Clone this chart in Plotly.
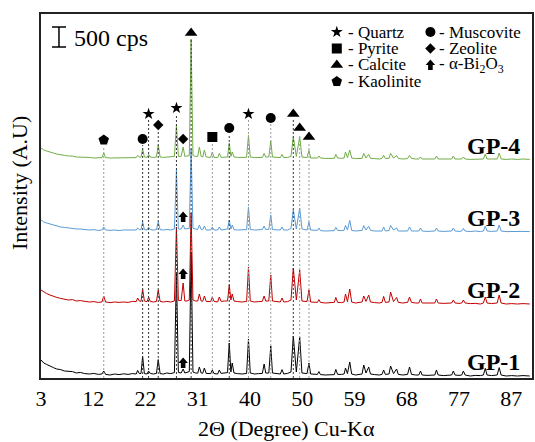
import plotly.graph_objects as go

# ---------------- data ----------------
two_theta = [3.0, 3.5, 4.0, 4.6, 5.2, 5.8, 6.5, 7.2, 7.9, 8.6,
             9.3, 10.0, 10.8, 11.6, 12.4, 13.2, 13.85, 14.17, 14.5, 15.3,
             16.1, 16.9, 17.7, 18.5, 19.3, 19.95, 20.2, 20.5, 20.8, 21.09,
             21.4, 21.9, 22.15, 22.45, 23.0, 23.55, 23.87, 24.2, 24.8, 25.4,
             26.1, 26.75, 27.11, 27.45, 27.95, 28.3, 28.6, 29.0, 29.4, 29.72,
             30.05, 30.5, 30.9, 31.19, 31.5, 31.8, 32.08, 32.4, 33.2, 33.5,
             33.8, 34.45, 34.74, 35.05, 35.7, 36.2, 36.51, 36.8, 37.04, 37.35,
             38.0, 38.8, 39.6, 39.93, 40.25, 41.0, 41.7, 42.4, 42.72, 43.0,
             43.55, 43.9, 44.2, 45.0, 45.6, 45.91, 46.2, 46.9, 47.5, 47.91,
             48.45, 49.05, 49.45, 50.35, 50.7, 51.0, 51.7, 52.2, 52.47, 52.75,
             53.6, 54.5, 55.2, 55.48, 55.8, 56.5, 56.95, 57.2, 57.55, 57.96,
             58.3, 59.0, 59.7, 60.15, 60.45, 60.85, 61.33, 61.65, 62.4, 63.2,
             63.7, 63.99, 64.3, 64.95, 65.23, 65.75, 66.3, 66.6, 67.4, 68.25,
             68.6, 68.95, 69.7, 70.25, 70.55, 70.85, 71.7, 72.6, 73.1, 73.39,
             73.7, 74.6, 75.5, 76.1, 76.4, 76.7, 77.4, 77.9, 78.18, 78.5,
             79.4, 80.3, 81.2, 81.75, 82.08, 82.4, 83.2, 84.2, 84.56, 84.9,
             85.8, 86.8, 87.8, 88.8, 90.0]

gp1 = [450, 375, 340, 290, 260, 225, 210, 175, 165, 160,
       125, 140, 110, 100, 115, 90, 100, 175, 90, 75,
       100, 85, 105, 90, 110, 100, 190, 110, 115, 540,
       110, 100, 175, 115, 100, 115, 460, 110, 100, 125,
       110, 135, 2625, 140, 125, 225, 125, 135, 160, 3150,
       150, 125, 120, 275, 125, 120, 250, 115, 110, 200,
       110, 100, 200, 115, 125, 135, 875, 150, 375, 125,
       110, 100, 115, 975, 125, 100, 110, 115, 350, 125,
       125, 800, 125, 100, 100, 210, 100, 115, 150, 1050,
       150, 1025, 125, 110, 375, 100, 90, 90, 160, 85,
       75, 90, 85, 215, 90, 90, 100, 250, 110, 400,
       100, 75, 90, 100, 325, 125, 275, 100, 85, 75,
       90, 200, 90, 100, 300, 110, 225, 90, 75, 90,
       275, 90, 75, 75, 175, 75, 65, 75, 75, 200,
       75, 60, 75, 75, 175, 75, 65, 75, 175, 75,
       50, 65, 60, 75, 240, 75, 60, 75, 260, 75,
       50, 60, 50, 60, 50]

gp2 = [400, 350, 310, 275, 240, 215, 190, 175, 150, 160,
       125, 135, 110, 100, 110, 90, 100, 250, 100, 85,
       100, 90, 100, 90, 115, 110, 200, 125, 115, 425,
       125, 110, 225, 115, 100, 115, 400, 115, 100, 115,
       100, 125, 1975, 140, 135, 575, 125, 125, 150, 2325,
       150, 125, 125, 300, 125, 120, 250, 115, 110, 225,
       115, 100, 225, 115, 125, 125, 525, 150, 300, 125,
       110, 100, 115, 975, 125, 100, 110, 115, 250, 125,
       125, 775, 125, 100, 100, 200, 100, 110, 150, 950,
       150, 900, 125, 110, 400, 100, 100, 90, 160, 90,
       75, 90, 90, 215, 90, 85, 100, 300, 110, 425,
       100, 75, 90, 100, 250, 115, 275, 100, 85, 75,
       90, 240, 90, 100, 350, 110, 215, 90, 75, 90,
       225, 90, 75, 75, 175, 75, 75, 65, 75, 175,
       75, 65, 75, 75, 150, 75, 65, 75, 150, 75,
       60, 65, 50, 75, 225, 75, 60, 75, 275, 75,
       50, 60, 50, 60, 50]

gp3 = [350, 300, 275, 250, 225, 200, 175, 165, 150, 140,
       125, 125, 110, 100, 110, 90, 100, 175, 100, 90,
       100, 85, 100, 100, 110, 100, 150, 110, 110, 300,
       110, 100, 175, 110, 100, 110, 300, 110, 100, 115,
       100, 125, 1600, 125, 125, 225, 125, 125, 140, 2125,
       140, 125, 115, 225, 115, 110, 200, 100, 100, 175,
       100, 100, 175, 100, 115, 125, 350, 125, 225, 110,
       100, 100, 110, 675, 115, 100, 100, 110, 200, 115,
       115, 475, 110, 100, 100, 175, 100, 100, 140, 600,
       125, 650, 125, 100, 300, 100, 90, 90, 150, 85,
       75, 90, 85, 165, 90, 85, 90, 215, 100, 340,
       90, 75, 90, 90, 210, 100, 190, 90, 75, 75,
       75, 175, 75, 90, 215, 100, 150, 75, 75, 75,
       175, 75, 75, 75, 150, 75, 65, 75, 75, 150,
       75, 65, 75, 75, 150, 75, 65, 75, 140, 75,
       60, 75, 60, 75, 200, 75, 65, 75, 225, 75,
       60, 65, 60, 65, 60]

gp4 = [350, 300, 275, 240, 225, 200, 190, 165, 150, 150,
       125, 125, 110, 115, 100, 100, 110, 225, 110, 100,
       100, 100, 110, 100, 115, 110, 165, 125, 125, 325,
       125, 115, 190, 125, 115, 125, 425, 125, 115, 125,
       125, 140, 925, 140, 140, 375, 140, 150, 160, 3075,
       160, 140, 140, 375, 140, 125, 300, 125, 115, 250,
       115, 110, 215, 115, 125, 125, 475, 140, 250, 125,
       115, 110, 115, 665, 125, 110, 115, 115, 215, 125,
       125, 525, 125, 110, 110, 190, 110, 115, 140, 625,
       140, 625, 125, 110, 290, 100, 100, 100, 150, 100,
       90, 100, 90, 190, 100, 90, 100, 250, 110, 300,
       100, 85, 90, 90, 215, 100, 190, 90, 85, 75,
       90, 165, 90, 90, 215, 100, 160, 90, 75, 85,
       165, 90, 75, 75, 125, 75, 75, 75, 75, 150,
       75, 75, 75, 75, 150, 75, 75, 75, 125, 75,
       65, 75, 75, 75, 200, 75, 75, 75, 225, 75,
       65, 75, 65, 75, 65]

series_names = ["GP-1", "GP-2", "GP-3", "GP-4"]
series_values = [gp1, gp2, gp3, gp4]
series_colors = ["#000000", "#c00000", "#5b9bd5", "#70ad47"]
series_offsets = [0, 1800, 3600, 5400]   # vertical stacking offsets (cps)

# phase identification markers (2theta, height on stacked scale), guide: 0 none, 1 dark, 2 light
quartz_x = [22.15, 27.11, 39.93]
quartz_y = [6600, 6750, 6600]
quartz_guide = [1, 1, 2]
muscovite_x = [21.09, 36.51, 43.9]
muscovite_y = [5975, 6250, 6500]
muscovite_guide = [1, 1, 2]
pyrite_x = [33.5]
pyrite_y = [6025]
pyrite_guide = [2]
zeolite_x = [23.87, 28.3]
zeolite_y = [6325, 5975]
zeolite_guide = [1, 0]
calcite_x = [29.72, 47.91, 49.05, 50.7]
calcite_y = [8625, 6600, 6250, 6025]
calcite_guide = [1, 1, 2, 2]
kaolinite_x = [14.17]
kaolinite_y = [5950]
kaolinite_guide = [2]
bi2o3_x = [28.3, 28.3, 28.3]
bi2o3_y = [4025, 2600, 375]

x_tick_vals = [3, 12.3, 21.6, 30.9, 40.2, 49.5, 58.8, 68.1, 77.4, 86.7]
x_tick_text = ["3", "12", "22", "31", "40", "50", "59", "68", "77", "87"]

scale_bar_cps = 500

# ---------------- figure ----------------
FONT = "Liberation Serif"
fig = go.Figure()

for name, vals, col, off in zip(series_names, series_values, series_colors, series_offsets):
    fig.add_trace(go.Scatter(x=two_theta, y=[v + off for v in vals], mode="lines",
                             line=dict(color=col, width=1), name=name,
                             hoverinfo="skip", showlegend=False))

phases = [
    ("star", 9, quartz_x, quartz_y, quartz_guide),
    ("circle", 10, muscovite_x, muscovite_y, muscovite_guide),
    ("square", 10, pyrite_x, pyrite_y, pyrite_guide),
    ("diamond", 8, zeolite_x, zeolite_y, zeolite_guide),
    ("triangle-up", 11, calcite_x, calcite_y, calcite_guide),
    ("pentagon", 11, kaolinite_x, kaolinite_y, kaolinite_guide),
]

shapes = []
for sym, size, xs, ys, guides in phases:
    for gx, gy, g in zip(xs, ys, guides):
        if g:
            shapes.append(dict(type="line", xref="x", yref="y", x0=gx, x1=gx, y0=0, y1=gy - 150,
                               line=dict(color="#333333" if g == 1 else "#9a9a9a", width=1,
                                         dash="2px,2px"), layer="above"))
for sym, size, xs, ys, guides in phases:
    fig.add_trace(go.Scatter(x=xs, y=ys, mode="markers",
                             marker=dict(symbol=sym, size=size, color="black",
                                         line=dict(width=0)),
                             cliponaxis=False, hoverinfo="skip", showlegend=False))

ARROW = "M-2.3,-5 L2.3,-5 L2.3,0 L4.8,0 L0,5.5 L-4.8,0 L-2.3,0 Z"
for ax_, ay_ in zip(bi2o3_x, bi2o3_y):
    shapes.append(dict(type="path", xref="x", yref="y", xsizemode="pixel", ysizemode="pixel",
                       xanchor=ax_, yanchor=ay_, path=ARROW, fillcolor="black",
                       line=dict(width=0)))

# scale bar
sb_x = 6.2
sb_y0 = 8275
shapes.append(dict(type="line", xref="x", yref="y", xsizemode="pixel", xanchor=sb_x,
                   x0=0, x1=0, y0=sb_y0, y1=sb_y0 + scale_bar_cps, line=dict(color="black", width=1.5)))
for yy in (sb_y0, sb_y0 + scale_bar_cps):
    shapes.append(dict(type="line", xref="x", yref="y", xsizemode="pixel", xanchor=sb_x,
                       x0=-7, x1=7, y0=yy, y1=yy, line=dict(color="black", width=1.5)))

annotations = []
annotations.append(dict(x=0.063, y=0.934, xref="paper", yref="paper", text="500 cps",
                        showarrow=False, xanchor="left", yanchor="middle",
                        font=dict(family=FONT, size=24, color="black")))

# sample labels
for name, off in zip(series_names, series_offsets):
    annotations.append(dict(x=88.6, y=off + 400, xref="x", yref="y", text="<b>%s</b>" % name,
                            showarrow=False, xanchor="right", yanchor="middle",
                            font=dict(family=FONT, size=24, color="black")))

# key (legend) in the top-right corner
PLOT_L, PLOT_R, PLOT_T, PLOT_B = 41, 534, 14, 378
def fx(px):
    return (px - PLOT_L) / (PLOT_R - PLOT_L)
def fy(py):
    return (PLOT_B - py) / (PLOT_B - PLOT_T)

key_symbols = ["star", "circle", "square", "diamond", "triangle-up", "arrow", "pentagon"]
key_sizes = [9, 10, 10, 8, 11, 0, 11]
key_labels = ["- Quartz", "- Muscovite", "- Pyrite", "- Zeolite", "- Calcite",
              "- α-Bi<sub>2</sub>O<sub>3</sub>", "- Kaolinite"]
key_col = [0, 1, 0, 1, 0, 1, 0]
key_row = [0, 0, 1, 1, 2, 2, 3]
col_sym_px = [338, 432]
col_txt_px = [347, 439]
row_px = [32, 48.5, 65, 81.5]

for sym, sz, lab, c, r in zip(key_symbols, key_sizes, key_labels, key_col, key_row):
    sx, sy = fx(col_sym_px[c]), fy(row_px[r])
    if sym == "arrow":
        shapes.append(dict(type="path", xref="paper", yref="paper", xsizemode="pixel",
                           ysizemode="pixel", xanchor=sx, yanchor=sy, path=ARROW,
                           fillcolor="black", line=dict(width=0)))
    else:
        fig.add_trace(go.Scatter(x=[sx], y=[sy], xaxis="x2", yaxis="y2", mode="markers",
                                 marker=dict(symbol=sym, size=sz, color="black", line=dict(width=0)),
                                 cliponaxis=False, hoverinfo="skip", showlegend=False))
    annotations.append(dict(x=fx(col_txt_px[c]), y=sy, xref="paper", yref="paper", text=lab,
                            showarrow=False, xanchor="left", yanchor="middle",
                            font=dict(family=FONT, size=17, color="black")))

# axis titles
annotations.append(dict(x=fx(288), y=fy(428), xref="paper", yref="paper",
                        text="2Θ (Degree) Cu-Kα", showarrow=False,
                        xanchor="center", yanchor="middle",
                        font=dict(family=FONT, size=22, color="black")))
annotations.append(dict(x=fx(19), y=fy(183), xref="paper", yref="paper",
                        text="Intensity (A.U)", showarrow=False, textangle=-90,
                        xanchor="center", yanchor="middle",
                        font=dict(family=FONT, size=22, color="black")))

fig.update_layout(
    width=535, height=442,
    margin=dict(l=PLOT_L, r=535 - PLOT_R, t=PLOT_T, b=442 - PLOT_B, pad=0),
    paper_bgcolor="white", plot_bgcolor="white",
    showlegend=False,
    font=dict(family=FONT, color="black"),
    xaxis=dict(range=[3, 90.4], tickvals=x_tick_vals, ticktext=x_tick_text,
               showgrid=False, zeroline=False, showline=True, mirror=True,
               linecolor="#222222", linewidth=1.5, ticks="",
               tickfont=dict(family=FONT, size=22, color="black")),
    yaxis=dict(range=[0, 9100], showticklabels=False, showgrid=False, zeroline=False,
               showline=True, mirror=True, linecolor="#222222", linewidth=1.5, ticks=""),
    xaxis2=dict(overlaying="x", range=[0, 1], visible=False, fixedrange=True),
    yaxis2=dict(overlaying="y", range=[0, 1], visible=False, fixedrange=True),
    shapes=shapes,
    annotations=annotations,
)

fig.write_html("out.html", config={"displayModeBar": False},
               post_script="document.body.style.margin='0';document.body.style.padding='0';")
